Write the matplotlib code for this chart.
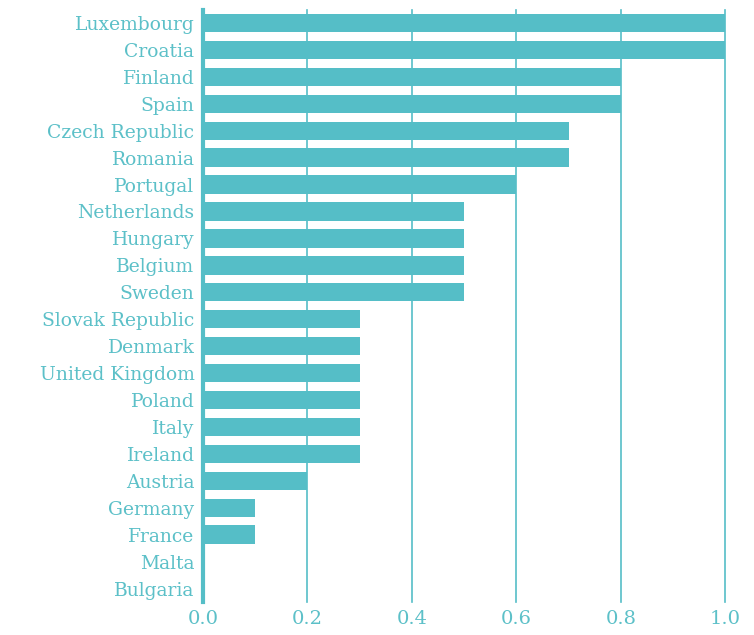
import matplotlib
matplotlib.use("Agg")
import matplotlib.pyplot as plt

countries = ["Luxembourg", "Croatia", "Finland", "Spain", "Czech Republic", "Romania",
             "Portugal", "Netherlands", "Hungary", "Belgium", "Sweden", "Slovak Republic",
             "Denmark", "United Kingdom", "Poland", "Italy", "Ireland", "Austria",
             "Germany", "France", "Malta", "Bulgaria"]
values = [1.0, 1.0, 0.8, 0.8, 0.7, 0.7, 0.6, 0.5, 0.5, 0.5, 0.5, 0.3, 0.3, 0.3, 0.3, 0.3,
          0.3, 0.2, 0.1, 0.1, 0.0, 0.0]
xticks = [0.0, 0.2, 0.4, 0.6, 0.8, 1.0]

teal = "#55BEC7"
text_c = "#5CC0C8"

fig = plt.figure(figsize=(7.54, 6.35), dpi=100)
ax = fig.add_axes([0.269, 0.052, 0.693, 0.933])
y = list(range(len(countries)))
ax.barh(y, values, height=0.68, color=teal, zorder=2)
ax.set_ylim(len(countries) - 0.5, -0.5)
ax.set_xlim(0, 1.0)
ax.set_xticks(xticks)
ax.set_xticklabels([f"{v:.1f}" for v in xticks])
ax.set_yticks(y)
ax.set_yticklabels(countries)
for v in xticks[1:]:
    ax.axvline(v, color=teal, lw=1.2, zorder=3 if v == 1.0 else 1, clip_on=False)
for s in ["top", "right", "bottom"]:
    ax.spines[s].set_visible(False)
ax.spines["left"].set_color(teal)
ax.spines["left"].set_linewidth(3)
ax.tick_params(axis="both", length=0, colors=text_c)
ax.tick_params(axis="y", pad=6, labelsize=13.5)
ax.tick_params(axis="x", pad=6, labelsize=14)
for lab in ax.get_xticklabels() + ax.get_yticklabels():
    lab.set_family("DejaVu Serif")
    lab.set_color(text_c)
fig.savefig("out.png", dpi=100)
